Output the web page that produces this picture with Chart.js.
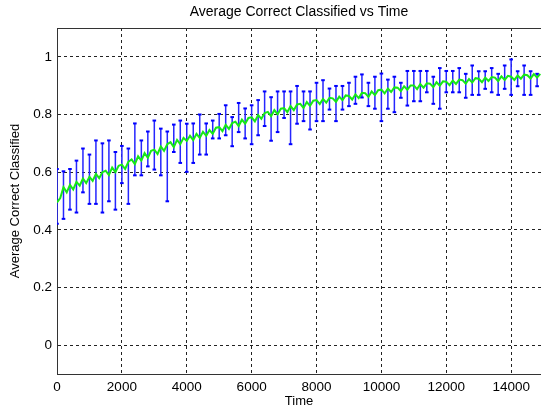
<!DOCTYPE html>
<html>
<head>
<meta charset="utf-8">
<script src="https://cdn.jsdelivr.net/npm/chart.js@4/dist/chart.umd.min.js"></script>
<style>
  html, body { margin: 0; padding: 0; background: #fff; overflow: hidden; }
  #wrap { width: 541px; height: 406px; }
</style>
</head>
<body>
<div id="wrap"><canvas id="c" width="541" height="406"></canvas></div>
<script>
// ---- data ----
const titleText = "Average Correct Classified vs Time";
const xLabel = "Time";
const yLabel = "Average Correct Classified";
const xTicks = [0, 2000, 4000, 6000, 8000, 10000, 12000, 14000];
const yTicks = [0, 0.2, 0.4, 0.6, 0.8, 1];
const yTickLabels = ["0", "0.2", "0.4", "0.6", "0.8", "1"];

// mean curve, sampled every 100 time units from 0 to 14900
const meanTime = [
  0,100,200,300,400,500,600,700,800,900,1000,1100,1200,1300,1400,1500,1600,1700,1800,1900,
  2000,2100,2200,2300,2400,2500,2600,2700,2800,2900,3000,3100,3200,3300,3400,3500,3600,3700,3800,3900,
  4000,4100,4200,4300,4400,4500,4600,4700,4800,4900,5000,5100,5200,5300,5400,5500,5600,5700,5800,5900,
  6000,6100,6200,6300,6400,6500,6600,6700,6800,6900,7000,7100,7200,7300,7400,7500,7600,7700,7800,7900,
  8000,8100,8200,8300,8400,8500,8600,8700,8800,8900,9000,9100,9200,9300,9400,9500,9600,9700,9800,9900,
  10000,10100,10200,10300,10400,10500,10600,10700,10800,10900,11000,11100,11200,11300,11400,11500,11600,11700,11800,11900,
  12000,12100,12200,12300,12400,12500,12600,12700,12800,12900,13000,13100,13200,13300,13400,13500,13600,13700,13800,13900,
  14000,14100,14200,14300,14400,14500,14600,14700,14800,14900
];
const meanValue = [
  0.495,0.510,0.548,0.530,0.556,0.540,0.566,0.553,0.578,0.562,0.584,0.570,0.594,0.579,0.600,0.605,0.590,0.616,0.600,0.622,
  0.626,0.611,0.636,0.644,0.628,0.655,0.640,0.666,0.650,0.674,0.678,0.663,0.689,0.674,0.697,0.704,0.687,0.712,0.697,0.719,
  0.708,0.726,0.711,0.733,0.719,0.740,0.726,0.746,0.733,0.754,0.756,0.742,0.764,0.750,0.770,0.775,0.760,0.782,0.768,0.788,
  0.790,0.776,0.798,0.785,0.805,0.809,0.794,0.815,0.801,0.820,0.822,0.808,0.829,0.815,0.835,0.837,0.823,0.843,0.830,0.848,
  0.850,0.836,0.854,0.841,0.858,0.856,0.844,0.862,0.850,0.866,0.864,0.852,0.870,0.857,0.875,0.874,0.861,0.880,0.867,0.884,
  0.886,0.873,0.890,0.878,0.894,0.893,0.881,0.898,0.886,0.901,0.901,0.888,0.905,0.893,0.908,0.907,0.895,0.912,0.900,0.915,
  0.914,0.902,0.918,0.906,0.921,0.919,0.907,0.923,0.911,0.926,0.924,0.912,0.928,0.916,0.930,0.928,0.916,0.932,0.920,0.934,
  0.931,0.920,0.935,0.924,0.938,0.936,0.925,0.940,0.928,0.941
];

// error bars every 200 time units
const errTime = [
  0,200,400,600,800,1000,1200,1400,1600,1800,2000,2200,2400,2600,2800,3000,3200,3400,3600,3800,
  4000,4200,4400,4600,4800,5000,5200,5400,5600,5800,6000,6200,6400,6600,6800,7000,7200,7400,7600,7800,
  8000,8200,8400,8600,8800,9000,9200,9400,9600,9800,10000,10200,10400,10600,10800,11000,11200,11400,11600,11800,
  12000,12200,12400,12600,12800,13000,13200,13400,13600,13800,14000,14200,14400,14600,14800
];
const errHigh = [
  0.611,0.603,0.611,0.640,0.682,0.661,0.710,0.700,0.710,0.670,0.691,0.682,0.769,0.710,0.741,0.779,0.751,0.741,0.765,0.779,
  0.768,0.769,0.800,0.769,0.779,0.802,0.832,0.791,0.840,0.821,0.832,0.850,0.880,0.860,0.880,0.880,0.880,0.899,0.880,0.880,
  0.910,0.919,0.890,0.899,0.899,0.910,0.931,0.939,0.910,0.931,0.942,0.921,0.931,0.910,0.951,0.951,0.951,0.951,0.931,0.961,
  0.951,0.951,0.961,0.941,0.970,0.950,0.950,0.961,0.941,0.970,0.991,0.950,0.970,0.950,0.941
];
const errLow = [
  0.421,0.438,0.470,0.460,0.530,0.490,0.490,0.460,0.499,0.470,0.562,0.490,0.589,0.589,0.620,0.609,0.589,0.499,0.670,0.632,
  0.601,0.632,0.661,0.661,0.717,0.717,0.728,0.690,0.739,0.717,0.697,0.728,0.760,0.709,0.739,0.788,0.697,0.768,0.777,0.748,
  0.777,0.777,0.817,0.777,0.817,0.829,0.837,0.859,0.829,0.820,0.777,0.820,0.808,0.858,0.831,0.846,0.846,0.877,0.837,0.820,
  0.877,0.877,0.877,0.858,0.868,0.868,0.889,0.877,0.868,0.889,0.868,0.898,0.868,0.868,0.898
];

// ---- build datasets from the arrays ----
const meanPoints = meanTime.map((t, i) => ({ x: t, y: meanValue[i] }));
const barPoints = [];
errTime.forEach((t, i) => {
  barPoints.push({ x: t, y: errLow[i] });
  barPoints.push({ x: t, y: errHigh[i] });
  barPoints.push({ x: t, y: null });
});

const FONT = "'Liberation Sans', Arial, Helvetica, sans-serif";
const X_MAX = 14920;

new Chart(document.getElementById('c'), {
  type: 'scatter',
  data: {
    datasets: [
      {
        label: 'mean',
        data: meanPoints,
        showLine: true,
        borderColor: '#16e816',
        borderWidth: 2,
        pointRadius: 0,
        tension: 0,
        order: 0
      },
      {
        label: 'error',
        data: barPoints,
        showLine: true,
        spanGaps: false,
        borderColor: '#2626ff',
        borderWidth: 1.5,
        pointStyle: 'line',
        pointRadius: 1.8,
        pointBorderWidth: 2,
        pointBorderColor: '#0000ff',
        pointBackgroundColor: '#0000ff',
        order: 1
      }
    ]
  },
  options: {
    responsive: false,
    animation: false,
    devicePixelRatio: 1,
    layout: { padding: 0, autoPadding: false },
    plugins: {
      legend: { display: false },
      tooltip: { enabled: false },
      title: { display: false }
    },
    scales: {
      x: {
        type: 'linear',
        position: 'bottom',
        min: 0,
        max: X_MAX,
        afterBuildTicks: s => { s.ticks = xTicks.map(v => ({ value: v })); },
        afterFit: s => { s.height = 32; s.paddingRight = 0; s.paddingLeft = 0; },
        ticks: {
          color: '#000',
          font: { family: FONT, size: 13.5 },
          padding: 5,
          maxRotation: 0,
          autoSkip: false,
          callback: v => String(v)
        },
        grid: { color: '#222', lineWidth: 1, drawTicks: false },
        border: { display: true, color: '#333', width: 1, dash: [3, 3] },
        title: {
          display: true,
          text: xLabel,
          color: '#000',
          font: { family: FONT, size: 13, lineHeight: 1 },
          padding: { top: 0, bottom: -2 }
        }
      },
      x2: {
        type: 'linear',
        position: 'top',
        min: 0,
        max: X_MAX,
        afterFit: s => { s.height = 28; s.paddingRight = 0; s.paddingLeft = 0; },
        ticks: { display: false },
        grid: { drawOnChartArea: false, drawTicks: false, color: 'rgba(0,0,0,0)' },
        border: { display: true, color: '#333', width: 1 },
        title: {
          display: true,
          text: titleText,
          color: '#000',
          font: { family: FONT, size: 14 },
          padding: { top: 4, bottom: 0 }
        }
      },
      y: {
        type: 'linear',
        position: 'left',
        min: -0.1,
        max: 1.1,
        afterBuildTicks: s => { s.ticks = yTicks.map(v => ({ value: v })); },
        afterFit: s => { s.width = 57; },
        ticks: {
          color: '#000',
          font: { family: FONT, size: 13.5 },
          padding: 5,
          autoSkip: false,
          callback: (v) => { const i = yTicks.indexOf(v); return i >= 0 ? yTickLabels[i] : ''; }
        },
        grid: { color: '#222', lineWidth: 1, drawTicks: false },
        border: { display: true, color: '#333', width: 1, dash: [3, 3] },
        title: {
          display: true,
          text: yLabel,
          color: '#000',
          font: { family: FONT, size: 13 },
          padding: { top: 8, bottom: 0 }
        }
      }
    }
  }
});
</script>
</body>
</html>
